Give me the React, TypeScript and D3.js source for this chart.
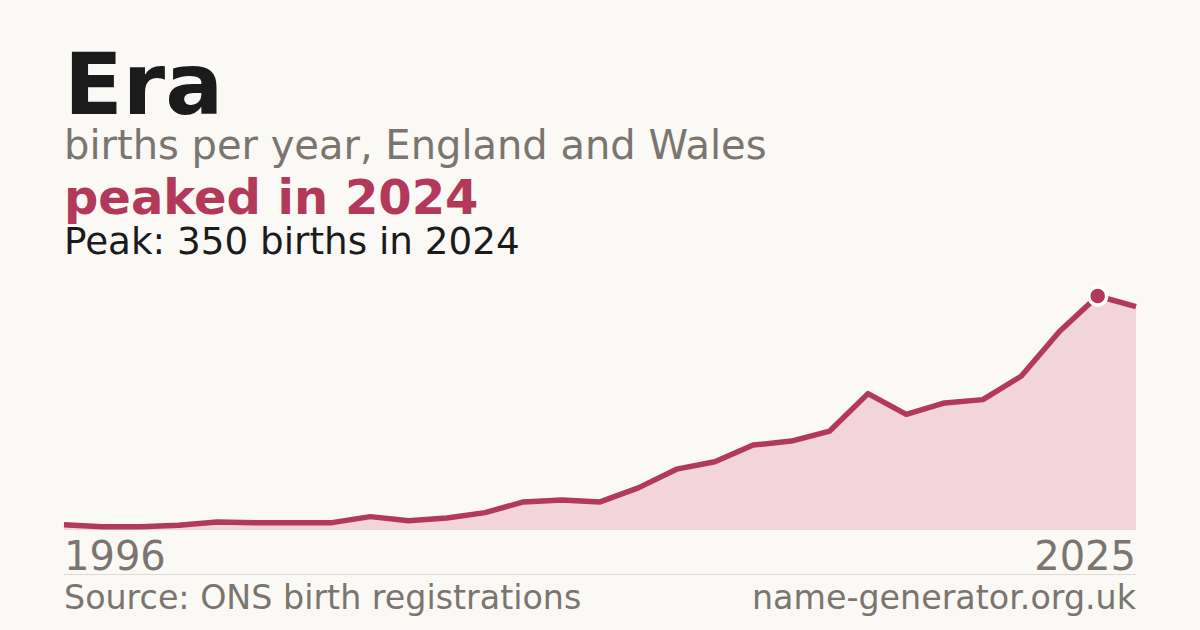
import React from "react";
import * as d3 from "d3";

const W = 1200;
const H = 630;

const nameTitle = "Era";
const subtitle = "births per year, England and Wales";
const headline = "peaked in 2024";
const peakNote = "Peak: 350 births in 2024";
const sourceText = "Source: ONS birth registrations";
const siteText = "name-generator.org.uk";

const years = [
  1997, 1998, 1999, 2000, 2001, 2002, 2003, 2004, 2005, 2006,
  2007, 2008, 2009, 2010, 2011, 2012, 2013, 2014, 2015, 2016,
  2017, 2018, 2019, 2020, 2021, 2022, 2023, 2024, 2025,
];
const births = [
  8, 5, 5, 7, 12, 11, 11, 11, 20, 14,
  18, 26, 42, 45, 42, 63, 91, 102, 127, 133,
  148, 204, 173, 190, 195, 230, 297, 350, 334,
];
const tickLabels = ["1996", "2025"];
const peakYear = 2024;

const BG = "#faf9f5";
const RED = "#b3395a";
const FILL = "#f1d5db";
const GRAY = "#7a756e";
const DARK = "#1b1b1b";
const FONT = "'DejaVu Sans', sans-serif";

export default function App() {
  const left = 64;
  const right = 1136;
  const baseY = 530;
  const topY = 296;

  const x = d3.scalePoint<number>().domain(years).range([left, right]);
  const y = d3
    .scaleLinear()
    .domain([0, d3.max(births) as number])
    .range([baseY, topY]);

  const data = years.map((yr, i) => ({ yr, v: births[i] }));
  const area = d3
    .area<{ yr: number; v: number }>()
    .x((d) => x(d.yr) as number)
    .y0(baseY)
    .y1((d) => y(d.v));
  const line = d3
    .line<{ yr: number; v: number }>()
    .x((d) => x(d.yr) as number)
    .y((d) => y(d.v));

  const peakIdx = years.indexOf(peakYear);
  const px = x(peakYear) as number;
  const py = y(births[peakIdx]);

  return (
    <svg
      width={W}
      height={H}
      viewBox={`0 0 ${W} ${H}`}
      style={{ position: "absolute", left: 0, top: 0, display: "block" }}
    >
      <rect x={0} y={0} width={W} height={H} fill={BG} />
      <text x={left} y={114} fontFamily={FONT} fontWeight="bold" fontSize={86} fill={DARK}>
        {nameTitle}
      </text>
      <text x={left} y={159} fontFamily={FONT} fontSize={40} fill={GRAY}>
        {subtitle}
      </text>
      <text x={left} y={214} fontFamily={FONT} fontWeight="bold" fontSize={48} fill={RED}>
        {headline}
      </text>
      <text x={left} y={254} fontFamily={FONT} fontSize={37.3} fill={DARK}>
        {peakNote}
      </text>

      <path d={area(data) as string} fill={FILL} />
      <path
        d={line(data) as string}
        fill="none"
        stroke={RED}
        strokeWidth={5.5}
        strokeLinejoin="round"
        strokeLinecap="butt"
      />
      <circle cx={px} cy={py} r={9} fill={RED} stroke="#ffffff" strokeWidth={3.5} />

      <text x={left} y={570} fontFamily={FONT} fontSize={40} fill={GRAY}>
        {tickLabels[0]}
      </text>
      <text x={right} y={570} fontFamily={FONT} fontSize={40} fill={GRAY} textAnchor="end">
        {tickLabels[1]}
      </text>
      <line x1={left} x2={right} y1={574.5} y2={574.5} stroke="#dedbd4" strokeWidth={1} />
      <text x={left} y={609} fontFamily={FONT} fontSize={33.3} fill={GRAY}>
        {sourceText}
      </text>
      <text x={right} y={609} fontFamily={FONT} fontSize={33.3} fill={GRAY} textAnchor="end">
        {siteText}
      </text>
    </svg>
  );
}
